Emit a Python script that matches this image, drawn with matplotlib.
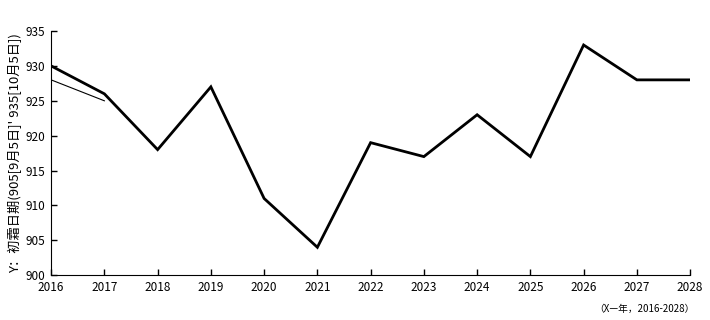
import matplotlib
matplotlib.use('Agg')
import matplotlib.pyplot as plt

plt.rcParams['font.family'] = ['Noto Sans CJK SC', 'DejaVu Sans']

years = [2016, 2017, 2018, 2019, 2020, 2021, 2022, 2023, 2024, 2025, 2026, 2027, 2028]
frost = [930, 926, 918, 927, 911, 904, 919, 917, 923, 917, 933, 928, 928]
trend_x = [2016, 2017]
trend_y = [928, 925]

fig = plt.figure(figsize=(7.1, 3.2), dpi=100)
ax = fig.add_axes([0.072, 0.14, 0.9, 0.763])

ax.plot(years, frost, color='black', lw=2.0, solid_joinstyle='miter')
ax.plot(trend_x, trend_y, color='black', lw=0.8)

ax.set_xlim(2016, 2028)
ax.set_ylim(900, 935)
ax.set_xticks(years)
ax.set_yticks(range(900, 936, 5))
ax.tick_params(direction='in', length=4, width=1, labelsize=8.5, pad=4)
ax.spines['top'].set_visible(False)
ax.spines['right'].set_visible(False)

ax.set_ylabel("Y：初霜日期(905[9月5日]' 935[10月5日])", fontsize=9.5, labelpad=3)
fig.text(0.978, 0.035, '（X—年，2016-2028）', ha='right', va='center', fontsize=7)

fig.savefig('out.png', dpi=100)
